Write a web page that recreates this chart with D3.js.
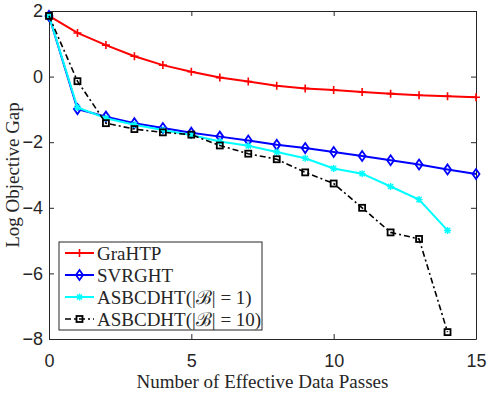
<!DOCTYPE html>
<html>
<head>
<meta charset="utf-8">
<script src="https://cdn.jsdelivr.net/npm/d3@7"></script>
<style>
  body { margin: 0; background: #fff; }
  svg { display: block; }
  .tick text { font-family: "Liberation Sans", Arial, sans-serif; font-size: 18px; fill: #262626; }
  .lbl { font-family: "Liberation Serif", "Times New Roman", serif; font-size: 19px; fill: #262626; }
</style>
</head>
<body>
<svg id="chart" width="487" height="393"></svg>
<script>
// effective data passes
const passes = d3.range(0, 16);
const xTicks = [0, 5, 10, 15];
const yTicks = [2, 0, -2, -4, -6, -8];

const grahtp = [1.85, 1.33, 0.96, 0.62, 0.35, 0.15, -0.03, -0.15, -0.28, -0.36, -0.41, -0.47, -0.52, -0.57, -0.60, -0.63];
const svrght = [1.85, -0.99, -1.22, -1.42, -1.57, -1.71, -1.83, -1.95, -2.08, -2.18, -2.30, -2.42, -2.55, -2.68, -2.83, -2.97];
const asbcd1 = [1.85, -0.94, -1.27, -1.47, -1.63, -1.78, -1.98, -2.11, -2.30, -2.49, -2.80, -2.96, -3.35, -3.75, -4.69];
const asbcd10 = [1.85, -0.14, -1.42, -1.60, -1.70, -1.77, -2.10, -2.35, -2.52, -2.92, -3.26, -4.00, -4.75, -4.95, -7.79];

const seriesList = [
  { name: "GraHTP", values: grahtp, color: "#ff0000", marker: "plus", dash: null, width: 2 },
  { name: "SVRGHT", values: svrght, color: "#0000ff", marker: "diamond", dash: null, width: 2 },
  { name: "ASBCDHT1", values: asbcd1, color: "#00ffff", marker: "star", dash: null, width: 2 },
  { name: "ASBCDHT10", values: asbcd10, color: "#000000", marker: "square", dash: "6,3,2,3", width: 1.6 }
];

const margin = { left: 49, right: 11, top: 11, bottom: 54 };
const W = 487, H = 393;

const svg = d3.select("#chart");

const x = d3.scaleLinear().domain([0, 15]).range([margin.left, W - margin.right]);
const y = d3.scaleLinear().domain([-8, 2]).range([H - margin.bottom, margin.top]);

const axisColor = "#262626";

// axes (ticks pointing inward, box on all sides)
let styleAxis = (g) => {
  g.select(".domain").attr("stroke", axisColor).attr("stroke-width", 1);
  g.selectAll(".tick line").attr("stroke", axisColor);
};

svg.append("g")
  .attr("transform", `translate(0,${y(-8)})`)
  .call(d3.axisBottom(x).tickValues(xTicks).tickSize(-5).tickSizeOuter(0).tickPadding(15))
  .call(styleAxis);

svg.append("g")
  .attr("transform", `translate(0,${y(2)})`)
  .call(d3.axisTop(x).tickValues(xTicks).tickSize(-5).tickSizeOuter(0).tickFormat(""))
  .call(styleAxis);

svg.append("g")
  .attr("transform", `translate(${x(0)},0)`)
  .call(d3.axisLeft(y).tickValues(yTicks).tickSize(-5).tickSizeOuter(0).tickPadding(6))
  .call(styleAxis);

svg.append("g")
  .attr("transform", `translate(${x(15)},0)`)
  .call(d3.axisRight(y).tickValues(yTicks).tickSize(-5).tickSizeOuter(0).tickFormat(""))
  .call(styleAxis);

// markers
let drawMarker = (sel, kind, color) => {
  if (kind === "plus") {
    sel.append("path").attr("d", "M-4,0H4M0,-4V4")
      .attr("stroke", color).attr("stroke-width", 1.6).attr("fill", "none");
  } else if (kind === "diamond") {
    sel.append("path").attr("d", "M0,-5L3.5,0L0,5L-3.5,0Z")
      .attr("stroke", color).attr("stroke-width", 1.8).attr("fill", "none");
  } else if (kind === "star") {
    sel.append("path").attr("d", "M-3.5,0H3.5M0,-3.5V3.5M-2.6,-2.6L2.6,2.6M-2.6,2.6L2.6,-2.6")
      .attr("stroke", color).attr("stroke-width", 1.4).attr("fill", "none");
  } else if (kind === "square") {
    sel.append("rect").attr("x", -3).attr("y", -3).attr("width", 6).attr("height", 6)
      .attr("stroke", color).attr("stroke-width", 1.8).attr("fill", "none");
  }
};

let line = d3.line()
  .x((d, i) => x(passes[i]))
  .y(d => y(d));

const plot = svg.append("g").classed("series", true);

seriesList.forEach(s => {
  plot.append("path")
    .attr("d", line(s.values))
    .attr("fill", "none")
    .attr("stroke", s.color)
    .attr("stroke-width", s.width)
    .attr("stroke-dasharray", s.dash);

  plot.selectAll(null)
    .data(s.values)
    .enter().append("g")
    .attr("transform", (d, i) => `translate(${x(passes[i])},${y(d)})`)
    .each(function() { drawMarker(d3.select(this), s.marker, s.color); });
});

// axis labels
svg.append("text")
  .attr("class", "lbl")
  .attr("x", (x(0) + x(15)) / 2)
  .attr("y", 388)
  .attr("text-anchor", "middle")
  .text("Number of Effective Data Passes");

svg.append("text")
  .attr("class", "lbl")
  .attr("transform", `translate(19,${(y(2) + y(-8)) / 2}) rotate(-90)`)
  .attr("text-anchor", "middle")
  .text("Log Objective Gap");

// legend
const legend = svg.append("g").attr("transform", "translate(59,242)");
legend.append("rect")
  .attr("width", 203).attr("height", 88)
  .attr("fill", "#fff").attr("stroke", axisColor).attr("stroke-width", 1);

seriesList.forEach((s, i) => {
  const row = legend.append("g").attr("transform", `translate(0,${11 + i * 22})`);
  row.append("line")
    .attr("x1", 6).attr("x2", 35)
    .attr("stroke", s.color).attr("stroke-width", s.width)
    .attr("stroke-dasharray", s.dash);
  drawMarker(row.append("g").attr("transform", "translate(20.5,0)"), s.marker, s.color);

  const t = row.append("text").attr("class", "lbl").attr("x", 38).attr("dy", "0.35em");
  if (i < 2) {
    t.text(s.name);
  } else {
    t.append("tspan").text("ASBCDHT(|");
    t.append("tspan").text("ℬ");
    t.append("tspan").text(i === 2 ? "| = 1)" : "| = 10)");
  }
});
</script>
</body>
</html>
